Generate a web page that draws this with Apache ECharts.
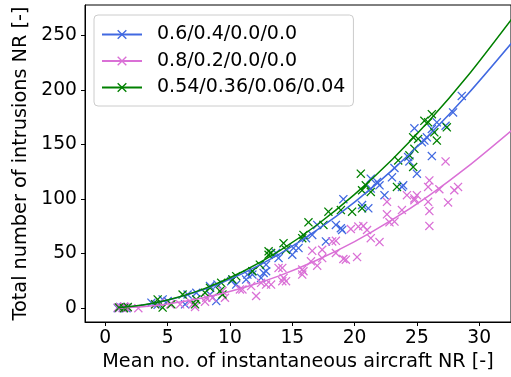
<!DOCTYPE html>
<html>
<head>
<meta charset="utf-8">
<script src="https://cdn.jsdelivr.net/npm/echarts@6/dist/echarts.min.js"></script>
<style>
  html, body { margin: 0; padding: 0; background: #fff; }
  #chart { width: 511px; height: 377px; }
</style>
</head>
<body>
<div id="chart"></div>
<script>
// Mix labels (share of each aircraft type)
const mixNames = ['0.6/0.4/0.0/0.0', '0.8/0.2/0.0/0.0', '0.54/0.36/0.06/0.04'];
const mixColors = ['#4169E1', '#DA70D6', '#008000'];

// Simulation runs: [mean no. of instantaneous aircraft, total intrusions]
const runsA = [
  [1.0,0],[1.2,1],[1.4,0.5],[1.7,0],[1.5,1],
  [3.7,5],[4.2,3],[4.6,8],[5.0,6.5],[6.4,3.5],[6.6,12.5],[7.3,14.1],[8.4,12.5],[8.4,20.2],
  [8.9,6.5],[9.0,21.6],[10.1,24.7],[10.2,26.2],[10.5,21.6],[11.3,26.2],[11.4,30.7],[11.8,30.7],
  [11.8,33.8],[12.5,27.7],[12.7,32.3],[12.9,33.8],[12.9,39.8],[13.7,50.5],[13.9,45.9],[15.0,48.9],
  [15.1,55],[15.5,55],[16.1,64.1],[16.6,67.1],[17.0,76.2],[17.7,61.1],[18.5,76.2],[18.9,73.2],
  [19.0,71.6],[19.1,99.8],[20.6,94.4],[21.1,91.4],[21.3,109.5],[21.3,118.6],[21.8,115.6],
  [22.0,112.5],[22.4,103.5],[23.0,119.8],[23.2,128.4],[23.8,111],[23.9,112.5],[24.3,138.4],
  [24.4,134.4],[24.8,164.7],[25.0,123.2],[25.4,152],[25.6,153.5],[25.8,156.5],[26.2,164.1],
  [26.2,139.3],[26.6,170.2],[27.3,167.1],[27.9,179.3],[28.6,194.4]
];
const runsB = [
  [1.0,0.5],[1.2,1],[1.4,0],[1.6,1],[1.8,0.5],[1.1,0],[1.5,1.5],[2.65,0],
  [4.0,3.5],[4.4,5],[5.2,3.5],[6.0,3.5],[6.8,5.9],[7.2,1.1],[7.0,3.5],[8.0,5.9],[8.1,9.5],
  [8.6,9.5],[9.4,15.6],[9.6,9.5],[10.8,17.1],[11.0,17.1],[11.7,20.2],[12.1,11.1],[12.5,23.2],
  [12.9,21.6],[13.3,21.6],[13.9,36.8],[14.2,36.8],[14.3,27.7],[14.2,24.7],[14.5,24.7],[15.8,30.7],
  [15.9,33.8],[15.8,35.3],[16.5,42.9],[16.6,52.5],[17.0,38.9],[17.4,53.5],[17.4,45.9],[18.2,61.1],
  [18.5,61.7],[18.5,50.5],[19.1,45],[19.3,44.4],[19.7,72.5],[20.2,46.8],[20.3,74.7],[20.7,75.3],
  [21.0,71.6],[21.3,64.1],[22.0,60.5],[22.6,85.9],[22.6,97.4],[22.8,78.6],[23.2,79.3],[23.8,89.8],
  [24.2,103.5],[24.8,98.9],[24.8,100.5],[25.0,103.5],[25.9,97.4],[25.9,111],[26.0,117],
  [26.0,88.9],[26.0,75.3],[26.8,108.9],[27.3,134.4],[27.5,96.8],[28.0,108],[28.3,111]
];
const runsC = [
  [1.1,0.5],[1.5,0],[1.8,1],
  [4.0,3.5],[4.2,8],[4.6,0.5],[5.3,3.5],[6.2,12.5],[7.2,3.5],[7.3,8],[8.0,14.1],[8.4,18.6],
  [9.2,15.6],[9.3,23.2],[9.4,12.5],[10.2,26.2],[10.5,29.3],[11.8,33.8],[12.4,39.8],[13.1,52],
  [13.1,48.9],[13.3,50.5],[14.3,59.5],[14.5,53.5],[15.8,64.1],[15.9,67.1],[16.3,78.6],[17.5,76.2],
  [17.9,88.4],[18.9,89.8],[19.8,88.4],[20.5,123.2],[20.6,108],[20.6,91.4],[20.9,112.5],[21.3,106.5],
  [23.4,111],[23.5,135.3],[24.4,140],[24.7,129.3],[24.7,156.5],[24.8,145.9],[25.1,155],[25.6,171.6],
  [25.9,170.2],[26.2,177.7],[26.4,161.1],[26.6,153.5],[27.4,165.6]
];

// Fitted trend curves, sampled along x
const fitX = [1, 3, 5, 8, 11, 14, 17, 20, 23, 26, 29, 32.6];
const fitA = [0.35, 2.76, 7.21, 17.4, 31.6, 49.7, 71.6, 97.1, 126.2, 158.8, 195.0, 242.9];
const fitB = [0.15, 1.35, 3.77, 9.7, 18.4, 29.8, 44.1, 61.0, 80.8, 103.4, 128.9, 162.8];
const fitC = [0.34, 2.79, 7.38, 18.1, 33.3, 52.7, 76.4, 104.2, 136.0, 171.8, 211.7, 264.8];

const xTicks = [0, 5, 10, 15, 20, 25, 30];
const yTicks = [0, 50, 100, 150, 200, 250];

const cross = 'path://M0,1L1,0L5,4L9,0L10,1L6,5L10,9L9,10L5,6L1,10L0,9L4,5Z';
const font = 'DejaVu Sans';

const runs = [runsA, runsB, runsC];
const fits = [fitA, fitB, fitC];

const series = [];
runs.forEach((pts, i) => {
  series.push({
    type: 'scatter',
    name: mixNames[i] + ' runs',
    data: pts,
    symbol: cross,
    symbolSize: 9,
    itemStyle: { color: mixColors[i], opacity: 1 },
    z: 2 + i,
    silent: true
  });
});
fits.forEach((ys, i) => {
  series.push({
    type: 'line',
    name: mixNames[i],
    data: fitX.map((x, k) => [x, ys[k]]),
    smooth: 0.3,
    symbol: cross,
    symbolSize: 8,
    showSymbol: false,
    lineStyle: { color: mixColors[i], width: 1.5 },
    itemStyle: { color: mixColors[i] },
    z: 5 + i,
    silent: true
  });
});

const chart = echarts.init(document.getElementById('chart'), null, { renderer: 'canvas' });
chart.setOption({
  animation: false,
  backgroundColor: '#fff',
  textStyle: { fontFamily: font, color: '#000' },
  grid: {
    left: 85, top: 5, right: -3, bottom: 52,
    show: true, borderColor: '#000', borderWidth: 1, backgroundColor: 'transparent'
  },
  legend: {
    data: mixNames,
    orient: 'vertical',
    left: 94, top: 15,
    itemWidth: 40, itemHeight: 12, itemGap: 7.5,
    padding: [10, 8, 9, 7],
    borderColor: '#cccccc', borderWidth: 1, borderRadius: 4,
    backgroundColor: 'rgba(255,255,255,0.8)',
    textStyle: { fontFamily: font, fontSize: 19, color: '#000', padding: [0, 0, 0, 10] }
  },
  xAxis: {
    type: 'value',
    min: -1.63, max: 32.55,
    name: 'Mean no. of instantaneous aircraft NR [-]',
    nameLocation: 'middle', nameGap: 31,
    nameTextStyle: { fontFamily: font, fontSize: 19.2, color: '#000' },
    splitLine: { show: false },
    axisLine: { show: true, onZero: false, lineStyle: { color: '#000', width: 1 } },
    axisTick: { show: true, length: 4, lineStyle: { color: '#000' }, customValues: xTicks },
    axisLabel: { fontFamily: font, fontSize: 18.7, color: '#000', margin: 7, customValues: xTicks }
  },
  yAxis: {
    type: 'value',
    min: -12.7, max: 277.7,
    name: 'Total number of intrusions NR [-]',
    nameLocation: 'middle', nameGap: 45,
    nameTextStyle: { fontFamily: font, fontSize: 19.3, color: '#000' },
    splitLine: { show: false },
    axisLine: { show: true, onZero: false, lineStyle: { color: '#000', width: 1 } },
    axisTick: { show: true, length: 4, lineStyle: { color: '#000' }, customValues: yTicks },
    axisLabel: { fontFamily: font, fontSize: 18.7, color: '#000', margin: 8, customValues: yTicks }
  },
  series: series
});
</script>
</body>
</html>
